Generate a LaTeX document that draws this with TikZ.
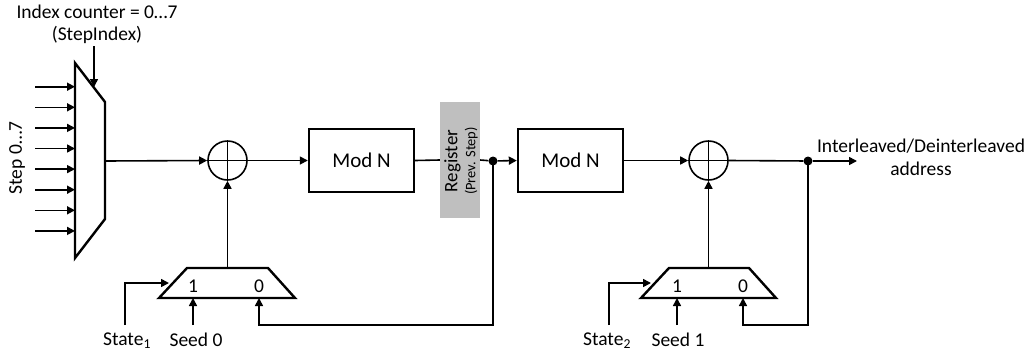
\documentclass[tikz,border=0pt]{standalone}
\usepackage{fontspec}
\setmainfont{Carlito}
\usetikzlibrary{arrows.meta,calc}
\begin{document}
\begin{tikzpicture}[x=1pt,y=-1pt,
  wire/.style={line width=1.6pt},
  arr/.style={wire,-{Triangle[length=8pt,width=8pt]}},
  blk/.style={draw,line width=2.4pt,minimum width=105pt,minimum height=63pt,inner sep=0pt,font=\fontsize{21}{25}\selectfont},
  add/.style={draw,circle,line width=1.6pt,minimum size=39pt,inner sep=0pt},
  lbl/.style={font=\fontsize{19.5}{23}\selectfont,inner sep=0pt},
  muxl/.style={line width=2.4pt,line join=miter},
  dot/.style={circle,fill,inner sep=0pt,minimum size=9pt}]
\useasboundingbox (0,0) rectangle (1028,354);

% big multiplexer
\draw[muxl] (75,63) -- (105,102) -- (105,219) -- (75,258) -- cycle;
\coordinate (m0out) at (105,161);
\coordinate (idxtop) at (94,46);
\coordinate (idxin) at (94,87);
\node[lbl] (idxlbl) at (97,12) {Index counter = 0…7};
\node[lbl] (idxlbl2) at (97,35) {(StepIndex)};
\draw[arr] (idxtop) -- (idxin);
\foreach \i in {0,...,7}{
  \coordinate (s\i) at (35,{86.7+\i*20.6});
  \coordinate (t\i) at (75,{86.7+\i*20.6});
  \draw[arr] (s\i) -- (t\i);
}
\node[lbl,rotate=90] (steplbl) at (17,158) {Step 0…7};

% upper chain
\node[add] (add1) at (227.5,160.5) {};
\draw[wire] (add1.north) -- (add1.south) (add1.west) -- (add1.east);
\draw[arr] (m0out) -- (add1.west);
\node[blk] (mod1) at (361.5,160.5) {Mod N};
\draw[arr] (add1.east) -- (mod1.west);
\node[fill=gray!50,minimum width=40pt,minimum height=116pt,inner sep=0pt] (reg) at (460,160) {};
\node[rotate=90,align=center,inner sep=0pt,font=\fontsize{19}{20}\selectfont] (reglbl) at (461,161)
  {Register\\[-2pt]{\fontsize{14.5}{15}\selectfont (Prev. Step)}};
\draw[wire] (mod1.east) -- (reg.west);
\node[dot] (dot1) at (493,161) {};
\draw[wire] (reg.east) -- (dot1);
\node[blk] (mod2) at (570.5,160.5) {Mod N};
\draw[arr] (dot1) -- (mod2.west);
\node[add] (add2) at (708.5,160.5) {};
\draw[wire] (add2.north) -- (add2.south) (add2.west) -- (add2.east);
\draw[arr] (mod2.east) -- (add2.west);
\node[dot] (dot2) at (808,161) {};
\coordinate (outend) at (857,161);
\draw[wire] (add2.east) -- (dot2);
\draw[arr] (dot2) -- (outend);
\node[lbl,align=center] (outlbl) at (921,157) {Interleaved/Deinterleaved\\address};

% lower multiplexer 1
\draw[muxl] (159,298) -- (187,268) -- (268,268) -- (295,298) -- cycle;
\coordinate (m1top) at (227.5,268);
\draw[arr] (m1top) -- (add1.south);
\node[lbl] (m1one) at (193,286) {1};
\node[lbl] (m1zero) at (259,286) {0};
\coordinate (m1in1) at (193,298);
\coordinate (m1in0) at (259,298);
\coordinate (seed0) at (193,325);
\draw[arr] (seed0) -- (m1in1);
\coordinate (fb1) at (493,325);
\draw[arr] (dot1.center) -- (fb1) -- (m1in0 |- fb1) -- (m1in0);
\coordinate (st1) at (125,325);
\coordinate (st1in) at (169,283);
\draw[arr] (st1) |- (st1in);
\node[lbl] (st1lbl) at (127,341) {State\textsubscript{1}};
\node[lbl] (seed0lbl) at (196,340) {Seed 0};

% lower multiplexer 2
\draw[muxl] (641,298) -- (669,268) -- (749,268) -- (776,298) -- cycle;
\coordinate (m2top) at (708.5,268);
\draw[arr] (m2top) -- (add2.south);
\node[lbl] (m2one) at (677,286) {1};
\node[lbl] (m2zero) at (743,286) {0};
\coordinate (m2in1) at (677,298);
\coordinate (m2in0) at (743,298);
\coordinate (seed1) at (677,325);
\draw[arr] (seed1) -- (m2in1);
\coordinate (fb2) at (808,325);
\draw[arr] (dot2.center) -- (fb2) -- (m2in0 |- fb2) -- (m2in0);
\coordinate (st2) at (609,325);
\coordinate (st2in) at (651,283);
\draw[arr] (st2) |- (st2in);
\node[lbl] (st2lbl) at (607,341) {State\textsubscript{2}};
\node[lbl] (seed1lbl) at (678,340) {Seed 1};
\end{tikzpicture}
\end{document}
